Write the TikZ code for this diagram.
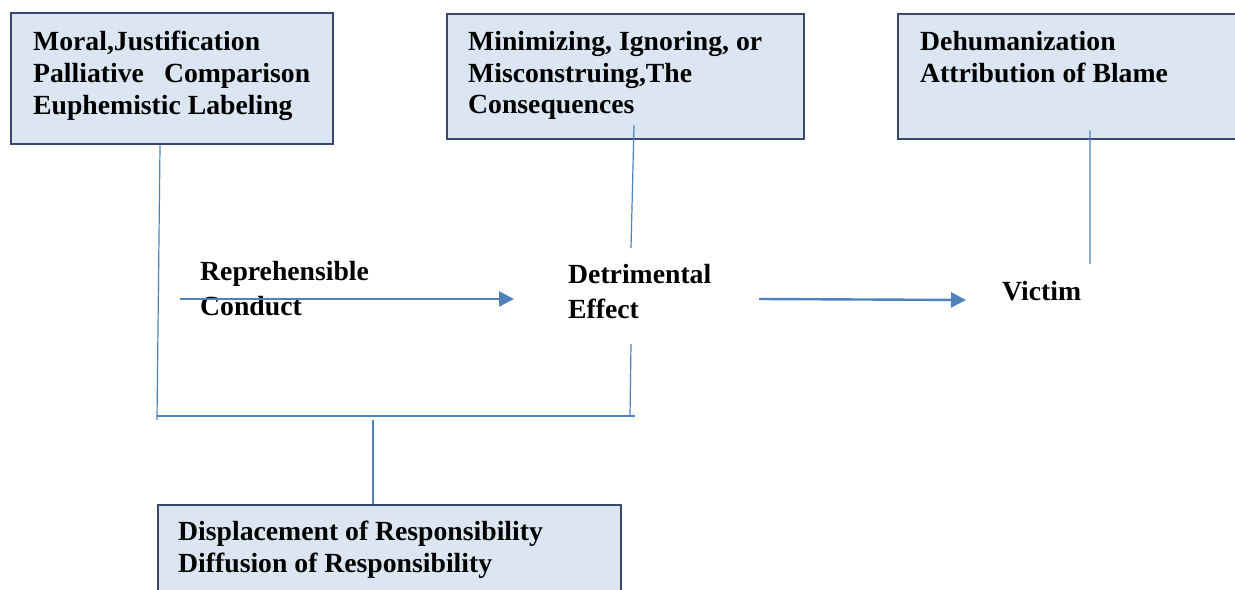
\documentclass[tikz,border=0pt]{standalone}
\usepackage{fontspec}
\setmainfont{Liberation Serif}
\usetikzlibrary{arrows.meta,positioning}
\definecolor{boxfill}{HTML}{DCE6F2}
\definecolor{boxedge}{HTML}{37486A}
\definecolor{linkblue}{HTML}{4F81BD}
\tikzset{
  bluebox/.style={draw=boxedge,fill=boxfill,line width=2.4bp,anchor=north west,inner sep=0pt},
  boxtext/.style={anchor=north west,inner sep=0pt,align=left,font=\bfseries\fontsize{27.7bp}{31.7bp}\selectfont},
  freetext/.style={boxtext,font=\bfseries\fontsize{27.7bp}{35bp}\selectfont},
  link/.style={linkblue,line width=1.2bp},
  flow/.style={linkblue,line width=2.4bp,-{Triangle[length=15bp,width=15bp]}},
}
\begin{document}
\begin{tikzpicture}[x=1bp,y=-1bp]
\clip (0,0) rectangle (1235,590);
%% boxes
\node (moralbox) at (10,12) [bluebox,minimum width=322bp,minimum height=131bp] {};
\node (minimbox) at (446,13) [bluebox,minimum width=357bp,minimum height=125bp] {};
\node (dehumbox) at (897,13) [bluebox,minimum width=400bp,minimum height=125bp] {};
\node (dispbox) at (157,504) [bluebox,minimum width=463bp,minimum height=120bp] {};
%% box texts
\node (moral) [boxtext,below right=19bp and 23bp of moralbox.north west] {Moral,Justification\\Palliative\hspace{20bp}Comparison\\Euphemistic Labeling};
\node (minim) [boxtext,below right=18bp and 22bp of minimbox.north west] {Minimizing, Ignoring, or\\Misconstruing,The\\Consequences};
\node (dehum) [boxtext,below right=18bp and 23bp of dehumbox.north west] {Dehumanization\\Attribution of Blame};
\node (disp) [boxtext,below right=17bp and 21bp of dispbox.north west] {Displacement of Responsibility\\Diffusion of Responsibility};
%% free labels
\node (repr) at (200,261) [freetext] {Reprehensible\\Conduct};
\node (detr) at (568,264) [freetext] {Detrimental\\Effect};
\node (victim) at (1002,281) [freetext] {Victim};
%% junctions
\coordinate (jl) at (157,416);
\coordinate (jr) at (635,416);
\coordinate (jd) at (630,416);
\coordinate (jm) at (373,420);
\coordinate (mfoot) at (157,420);
\coordinate (dtop) at (631,248);
\coordinate (dfoot) at (631,344);
\coordinate (vtop) at (1090,264);
\coordinate (a1s) at (180,299);
\coordinate (a1e) at (514,299);
\coordinate (a2s) at (759,299);
\coordinate (a2e) at (966,300);
%
\draw [link] ([xshift=150bp]moralbox.south west) -- (mfoot);
\draw [link] (jl) -- (jr);
\draw [link] (dfoot) -- (jd);
\draw [link] ([shift={(188bp,15bp)}]minimbox.south west) -- (dtop);
\draw [link] ([shift={(193bp,10bp)}]dehumbox.south west) -- (vtop);
\draw [link] (jm) -- (jm |- dispbox.north);
\draw [flow] (a1s) -- (a1e);
\draw [flow] (a2s) -- (a2e);
%
\end{tikzpicture}
\end{document}
